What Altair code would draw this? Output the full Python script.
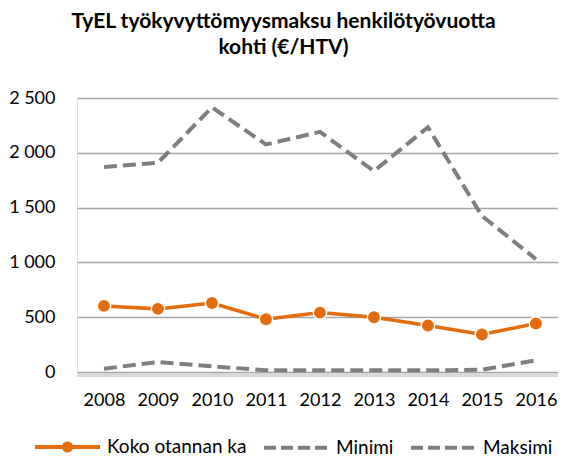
import altair as alt
import pandas as pd

years = ["2008", "2009", "2010", "2011", "2012", "2013", "2014", "2015", "2016"]
koko = [603, 576, 630, 482, 542, 500, 424, 342, 442]
minimi = [30, 91, 52, 15, 15, 15, 15, 21, 106]
maksimi = [1870, 1909, 2415, 2076, 2191, 1833, 2233, 1424, 1030]
series_names = ["Koko otannan ka", "Minimi", "Maksimi"]
y_ticks = [0, 500, 1000, 1500, 2000, 2500]

ORANGE = "#E46C0A"
GRAY = "#7F7F7F"
FONT = "Lato"

rows = []
for name, vals in zip(series_names, [koko, minimi, maksimi]):
    for yr, v in zip(years, vals):
        rows.append({"year": yr, "value": v, "series": name})
df = pd.DataFrame(rows)

color_scale = alt.Scale(domain=series_names, range=[ORANGE, GRAY, GRAY])

koko_sel = "datum.value === 'Koko otannan ka'"
legend = alt.Legend(
    title=None,
    orient="none",
    legendX=-44,
    legendY=314,
    direction="horizontal",
    symbolType={
        "expr": koko_sel
        + " ? 'M-1,0H1M-0.11,0A0.11,0.11,0,1,1,0.11,0A0.11,0.11,0,1,1,-0.11,0Z' : 'M-1,0H1'"
    },
    symbolSize=4225,
    symbolStrokeWidth=4,
    symbolDash={"expr": koko_sel + " ? [1,0] : [12,5]"},
    symbolFillColor={"expr": koko_sel + " ? '" + ORANGE + "' : 'transparent'"},
    labelFont=FONT,
    labelFontSize=19,
    labelColor="#000000",
    labelOffset=5,
    columnPadding=9,
)

x_enc = alt.X(
    "year:O",
    title=None,
    sort=years,
    scale=alt.Scale(padding=0.454, align=0.55),
    axis=alt.Axis(
        labelAngle=0,
        ticks=False,
        domain=False,
        labelPadding=19,
        labelFont=FONT,
        labelFontSize=18,
        labelColor="#000000",
    ),
)
y_enc = alt.Y(
    "value:Q",
    title=None,
    scale=alt.Scale(domain=[0, 2500], nice=False),
    axis=alt.Axis(
        values=y_ticks,
        grid=True,
        gridColor="#A6A6A6",
        gridWidth=1.3,
        ticks=False,
        domain=False,
        labelPadding=22,
        labelFont=FONT,
        labelFontSize=18,
        labelColor="#000000",
        labelExpr="replace(format(datum.value, ','), ',', ' ')",
    ),
)

base = alt.Chart(df)

shadow = base.mark_rule(color="#D9D9D9", strokeWidth=4, yOffset=3).encode(y=alt.datum(0))

gray_lines = (
    base.transform_filter("datum.series !== 'Koko otannan ka'")
    .mark_line(strokeWidth=4, strokeDash=[13, 6])
    .encode(
        x=x_enc,
        y=y_enc,
        color=alt.Color("series:N", scale=color_scale, legend=legend),
        detail="series:N",
    )
)

orange_line = (
    base.transform_filter("datum.series === 'Koko otannan ka'")
    .mark_line(strokeWidth=3.5)
    .encode(x=x_enc, y=y_enc, color=alt.Color("series:N", scale=color_scale, legend=legend))
)

orange_points = (
    base.transform_filter("datum.series === 'Koko otannan ka'")
    .mark_point(filled=True, size=180, opacity=1, stroke="white", strokeWidth=1.5, fill=ORANGE)
    .encode(x=x_enc, y=y_enc)
)

chart = (
    alt.layer(shadow, gray_lines, orange_line, orange_points)
    .properties(
        width=481,
        height=274,
        autosize=alt.AutoSizeParams(type="none"),
        padding={"left": 69, "top": 90, "right": 0, "bottom": 95},
        title=alt.Title(
            ["TyEL työkyvyttömyysmaksu henkilötyövuotta", "kohti (€/HTV)"],
            font=FONT,
            fontSize=21,
            fontWeight="bold",
            color="#000000",
            anchor="middle",
            dx=-34,
            offset=31,
            lineHeight=26,
        ),
    )
    .configure_view(stroke=None)
    .configure(font=FONT)
)

chart.save("out.html", embed_options={"renderer": "svg", "actions": False})
